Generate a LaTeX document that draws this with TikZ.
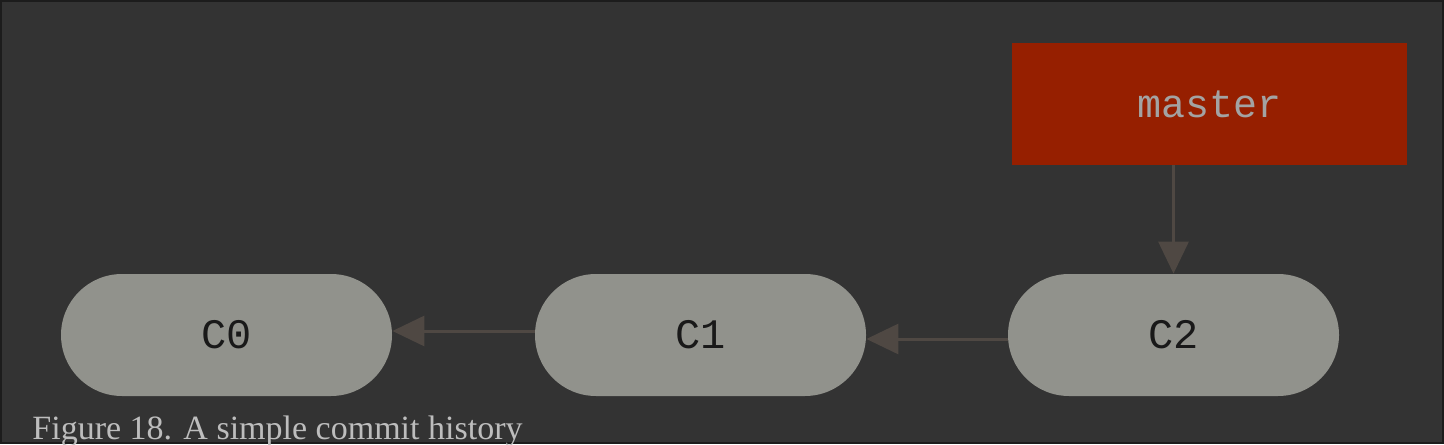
\documentclass[tikz,border=0pt]{standalone}
\usepackage{fontspec}
\setmonofont{Liberation Mono}
\newfontfamily\figcaptionfont{Liberation Serif}
\usetikzlibrary{arrows.meta}

\definecolor{bgGray}{HTML}{333333}
\definecolor{frameDark}{HTML}{1C1C1C}
\definecolor{commitGray}{HTML}{91928C}
\definecolor{branchRed}{HTML}{961F00}
\definecolor{branchText}{HTML}{A3A3A3}
\definecolor{pointerGray}{HTML}{4F4843}
\definecolor{captionGray}{HTML}{BDBDBD}

% one commit, named and labelled by the first argument
\newcommand{\commitnode}[3]{
    \node[commit] (#1) at (#2,#3) {#1};
}

\begin{document}
\begin{tikzpicture}[x=0.5pt, y=-0.5pt,
    commit/.style={fill=commitGray, rounded corners=30.5pt, minimum width=165.5pt,
        minimum height=61pt, inner sep=0pt, text=black!90,
        font=\ttfamily\fontsize{21}{21}\selectfont},
    branch/.style={fill=branchRed, minimum width=197.5pt, minimum height=61pt,
        inner sep=0pt, text=branchText, font=\ttfamily\fontsize{20}{20}\selectfont},
    pointer/.style={draw=pointerGray, line width=1.5pt, -{Triangle[length=16pt,width=15pt]}}]

    \useasboundingbox (0,0) rectangle (1444,444);
    \clip (0,0) rectangle (1444,444);
    \fill[bgGray] (0,0) rectangle (1444,444);
    \draw[frameDark, line width=1pt] (1,1) rectangle (1443,443);

    % commits
    \commitnode{C0}{226.5}{335}
    \commitnode{C1}{700.5}{335}
    \commitnode{C2}{1173.5}{335}

    % branch pointer
    \node[branch] (master) at (1209.5,104) {master};

    \draw[pointer] ([yshift=2pt]C1.west) -- ([yshift=2pt]C0.east);
    \draw[pointer] ([yshift=-2pt]C2.west) -- ([yshift=-2pt]C1.east);
    \draw[pointer] (C2.north |- master.south) -- (C2.north);

    \node[anchor=base west, inner sep=0pt, text=captionGray,
        font=\figcaptionfont\fontsize{17}{17}\selectfont] (caption) at (32,439)
        {Figure 18. A simple commit history};
\end{tikzpicture}
\end{document}
